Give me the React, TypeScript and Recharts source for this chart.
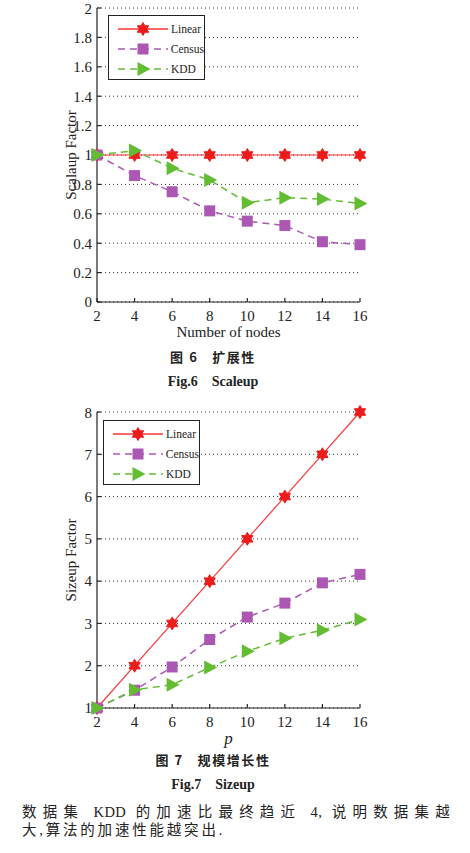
import React from "react";
import {
  LineChart,
  Line,
  XAxis,
  YAxis,
  CartesianGrid,
  Legend,
} from "recharts";

const nodes = [2, 4, 6, 8, 10, 12, 14, 16];

const scaleLinear = [1, 1, 1, 1, 1, 1, 1, 1];
const scaleCensus = [1.0, 0.86, 0.75, 0.62, 0.55, 0.52, 0.41, 0.39];
const scaleKDD = [1.0, 1.03, 0.91, 0.83, 0.675, 0.71, 0.7, 0.67];

const sizeLinear = [1, 2, 3, 4, 5, 6, 7, 8];
const sizeCensus = [1, 1.42, 1.97, 2.62, 3.15, 3.48, 3.96, 4.16];
const sizeKDD = [1, 1.43, 1.55, 1.96, 2.34, 2.65, 2.84, 3.09];

const scaleTicks = [0, 0.2, 0.4, 0.6, 0.8, 1, 1.2, 1.4, 1.6, 1.8, 2];
const sizeTicks = [1, 2, 3, 4, 5, 6, 7, 8];

const SERIES = ["Linear", "Census", "KDD"];
const COLORS: Record<string, string> = {
  Linear: "#ff3535",
  Census: "#ad57b5",
  KDD: "#62bd33",
};
const DASH: Record<string, string | undefined> = {
  Linear: undefined,
  Census: "7 5",
  KDD: "7 5",
};

const serif = '"Liberation Serif", "Times New Roman", serif';
const cjk = '"Liberation Serif", "Noto Sans CJK SC", sans-serif';

const scaleData = nodes.map((n, i) => ({
  n,
  Linear: scaleLinear[i],
  Census: scaleCensus[i],
  KDD: scaleKDD[i],
}));

const sizeData = nodes.map((n, i) => ({
  n,
  Linear: sizeLinear[i],
  Census: sizeCensus[i],
  KDD: sizeKDD[i],
}));

const Marker = ({ name, cx, cy }: { name: string; cx: number; cy: number }) => {
  const c = COLORS[name];
  if (name === "Linear") {
    const r = 6.5;
    const pts: string[] = [];
    for (let k = 0; k < 12; k++) {
      const rad = k % 2 === 0 ? r : r / Math.sqrt(3);
      const a = (Math.PI / 6) * k - Math.PI / 2;
      pts.push(`${cx + rad * Math.cos(a)},${cy + rad * Math.sin(a)}`);
    }
    return <polygon points={pts.join(" ")} fill="#ee1b1b" stroke="#ee1b1b" />;
  }
  if (name === "Census") {
    return <rect x={cx - 5.5} y={cy - 5.5} width={11} height={11} fill={c} />;
  }
  return (
    <polygon
      points={`${cx - 5.5},${cy - 7} ${cx + 7.5},${cy} ${cx - 5.5},${cy + 7}`}
      fill={c}
    />
  );
};

const dotFor = (name: string) => (p: any) =>
  <Marker key={`${name}-${p.index}`} name={name} cx={p.cx} cy={p.cy} />;

const LegendBox = ({ left, top }: { left: number; top: number }) => (
  <div
    style={{
      position: "absolute",
      left,
      top,
      width: 97,
      height: 65,
      border: "1.5px solid #222",
      background: "#fff",
      boxSizing: "border-box",
      paddingTop: 3,
    }}
  >
    {SERIES.map((s) => (
      <div key={s} style={{ display: "flex", alignItems: "center", height: 20 }}>
        <svg width={62} height={20}>
          <line
            x1={9}
            x2={59}
            y1={10}
            y2={10}
            stroke={COLORS[s]}
            strokeWidth={1.3}
            strokeDasharray={DASH[s]}
          />
          <Marker name={s} cx={34} cy={10} />
        </svg>
        <span style={{ fontFamily: serif, fontSize: 11.5, color: "#222" }}>{s}</span>
      </div>
    ))}
  </div>
);

const axisStroke = { stroke: "#222", strokeWidth: 1.2 };
const tickFont = { fontFamily: serif, fontSize: 15, fill: "#222" };

const Panel = ({
  data,
  yDomain,
  yTicks,
  yLabel,
  xLabel,
  xItalic,
  height,
  xHeight,
  bottom,
  labelOffset,
  legendPos,
}: {
  data: any[];
  yDomain: [number, number];
  yTicks: number[];
  yLabel: string;
  xLabel: string;
  xItalic?: boolean;
  height: number;
  xHeight: number;
  bottom: number;
  labelOffset: number;
  legendPos: { left: number; top: number };
}) => (
  <LineChart
    width={380}
    height={height}
    data={data}
    style={{ fontFamily: serif }}
    margin={{ top: 8, right: 20, left: 0, bottom }}
  >
    <CartesianGrid vertical={false} stroke="#333" strokeDasharray="1 3" />
    <XAxis
      dataKey="n"
      type="number"
      domain={[2, 16]}
      ticks={nodes}
      height={xHeight}
      tickSize={-4}
      tickMargin={12}
      axisLine={axisStroke}
      tickLine={axisStroke}
      tick={tickFont}
      label={{
        value: xLabel,
        position: "insideBottom",
        offset: labelOffset,
        style: {
          fontFamily: serif,
          fontSize: xItalic ? 17 : 15,
          fontStyle: xItalic ? "italic" : "normal",
          fill: "#222",
        },
      }}
    />
    <XAxis
      xAxisId="top"
      dataKey="n"
      type="number"
      domain={[2, 16]}
      ticks={nodes}
      orientation="top"
      height={0}
      tickSize={-4}
      tick={false}
      axisLine={axisStroke}
      tickLine={axisStroke}
    />
    <YAxis
      type="number"
      domain={yDomain}
      ticks={yTicks}
      width={97}
      tickSize={-4}
      tickMargin={9}
      axisLine={axisStroke}
      tickLine={axisStroke}
      tick={tickFont}
      label={{
        value: yLabel,
        angle: -90,
        position: "center",
        dx: 22,
        style: { fontFamily: serif, fontSize: 15, fill: "#222", textAnchor: "middle" },
      }}
    />
    <YAxis
      yAxisId="right"
      orientation="right"
      type="number"
      domain={yDomain}
      ticks={yTicks}
      width={0}
      tickSize={-4}
      tick={false}
      axisLine={axisStroke}
      tickLine={axisStroke}
    />
    {SERIES.map((s) => (
      <Line
        key={s}
        dataKey={s}
        stroke={COLORS[s]}
        strokeWidth={s === "Linear" ? 1.2 : 1.5}
        strokeDasharray={DASH[s]}
        dot={dotFor(s)}
        activeDot={false}
        isAnimationActive={false}
      />
    ))}
    <Legend
      layout="vertical"
      align="center"
      verticalAlign="middle"
      wrapperStyle={{ left: 0, top: 0, width: 0, height: 0 }}
      content={() => <LegendBox left={legendPos.left} top={legendPos.top} />}
    />
  </LineChart>
);

const Caption = ({ top, zh, en }: { top: number; zh: string; en: string }) => (
  <>
    <div
      style={{
        position: "absolute",
        top,
        left: 0,
        width: 426,
        textAlign: "center",
        fontFamily: '"Noto Sans CJK SC", sans-serif',
        fontWeight: 700,
        fontSize: 13,
        letterSpacing: 1.6,
        color: "#222",
        whiteSpace: "pre",
      }}
    >
      {zh}
    </div>
    <div
      style={{
        position: "absolute",
        top: top + 27,
        left: 0,
        width: 426,
        textAlign: "center",
        fontFamily: serif,
        fontWeight: 700,
        fontSize: 14,
        color: "#222",
        whiteSpace: "pre",
      }}
    >
      {en}
    </div>
  </>
);

const latin = { letterSpacing: 0.5 };

export default function App() {
  return (
    <div
      style={{
        position: "absolute",
        left: 0,
        top: 0,
        width: 470,
        height: 853,
        background: "#fff",
        overflow: "hidden",
        fontFamily: serif,
      }}
    >
      <div style={{ position: "absolute", left: 0, top: 0 }}>
        <Panel
          data={scaleData}
          yDomain={[0, 2]}
          yTicks={scaleTicks}
          yLabel="Scalaup Factor"
          xLabel="Number of nodes"
          height={345}
          xHeight={35}
          bottom={8}
          labelOffset={0}
          legendPos={{ left: 108, top: 15 }}
        />
      </div>
      <Caption top={347} zh={"图 6   扩展性"} en={"Fig.6    Scaleup"} />
      <div style={{ position: "absolute", left: 0, top: 404 }}>
        <Panel
          data={sizeData}
          yDomain={[1, 8]}
          yTicks={sizeTicks}
          yLabel="Sizeup Factor"
          xLabel="p"
          xItalic
          height={346}
          xHeight={40}
          bottom={2}
          labelOffset={4}
          legendPos={{ left: 103, top: 16 }}
        />
      </div>
      <Caption top={750} zh={"图 7   规模增长性"} en={"Fig.7    Sizeup"} />
      <div
        style={{
          position: "absolute",
          left: 22,
          top: 803,
          width: 434,
          fontFamily: cjk,
          fontSize: 14.5,
          lineHeight: "18px",
          color: "#222",
          letterSpacing: 2.8,
        }}
      >
        <div
          style={{
            display: "flex",
            justifyContent: "space-between",
            whiteSpace: "pre",
            letterSpacing: 6.2,
          }}
        >
          <span>数据集</span>
          <span style={latin}>KDD</span>
          <span>的加速比最终趋近</span>
          <span style={latin}>4,</span>
          <span>说明数据集越</span>
        </div>
        <div style={{ whiteSpace: "pre" }}>大,算法的加速性能越突出.</div>
      </div>
    </div>
  );
}
